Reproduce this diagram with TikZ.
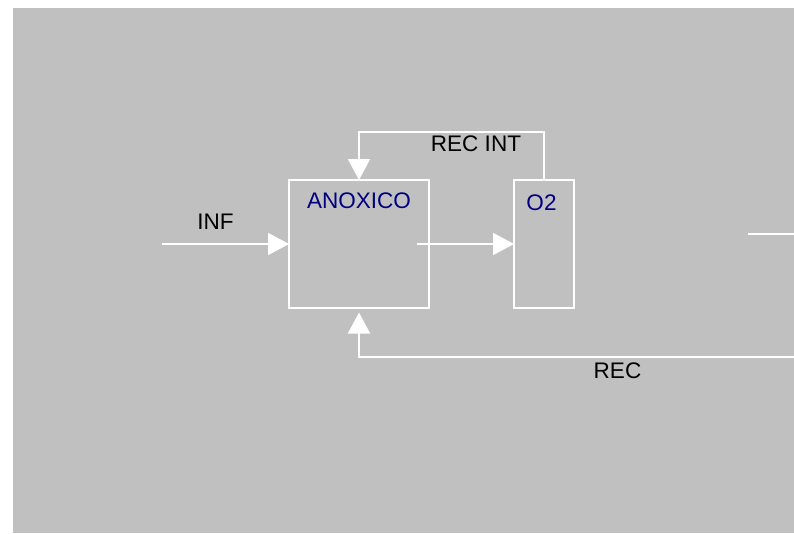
\documentclass[tikz,border=0pt]{standalone}
\usepackage{fontspec}
\setmainfont{Liberation Sans}
\usetikzlibrary{arrows.meta}
\definecolor{bggray}{HTML}{C0C0C0}
\definecolor{navyblue}{HTML}{000080}
\tikzset{
  wline/.style={draw=white, line width=1.5pt},
  warrow/.style={wline, -{Triangle[length=15.75pt,width=16.5pt]}},
  tank/.style={wline, rectangle, inner sep=0pt, outer sep=0pt, minimum height=96pt},
  tanklbl/.style={text=navyblue, inner sep=0pt, font=\fontsize{16.9}{20}\selectfont},
  flowlbl/.style={text=black, inner sep=0pt, font=\fontsize{16.9}{20}\selectfont}
}
\begin{document}
\begin{tikzpicture}[x=0.75pt,y=-0.75pt]
\useasboundingbox (0,0) rectangle (794,533);
\fill[white] (0,0) rectangle (794,533);
\fill[bggray] (13,8) rectangle (794,533);

\node[tank, minimum width=105pt] (anox) at (359,244) {};
\node[tank, minimum width=45pt] (o2) at (544,244) {};
\node[tanklbl] (anoxlbl) at (359,201) {ANOXICO};
\node[tanklbl] (o2lbl) at (541.5,203) {O2};

\coordinate (infstart) at (162,244);
\coordinate (a2start) at (417,244);
\coordinate (recintc) at (359,132);
\coordinate (recstart) at (794,357);
\coordinate (rstub) at (748,234);
\coordinate (rstubend) at (794,234);

\draw[warrow] (infstart) -- (anox.west);
\draw[warrow] (a2start) -- (o2.west);
\draw[warrow] (o2.north) |- (recintc) -- (anox.north);
\draw[warrow] (recstart) -| ([yshift=-3.4pt]anox.south);
\draw[wline] (rstub) -- (rstubend);

\node[flowlbl] (inflbl) at (215.5,221.5) {INF};
\node[flowlbl] (recintlbl) at (476,143.5) {REC INT};
\node[flowlbl] (reclbl) at (617.5,371) {REC};
\end{tikzpicture}
\end{document}
